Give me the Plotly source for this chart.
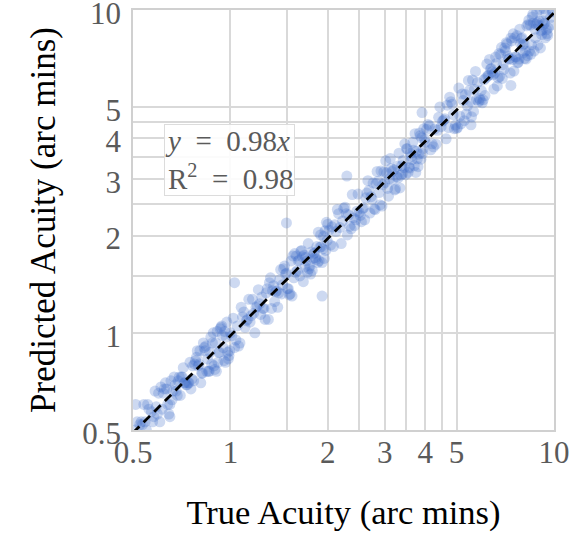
import plotly.graph_objects as go

# ---- data ----
true_acuity = [
    0.50, 0.51, 0.52, 0.53, 0.54, 0.55, 0.56, 0.57, 0.58, 0.59,
    0.60, 0.61, 0.62, 0.63, 0.64, 0.65, 0.66, 0.67, 0.68, 0.69,
    0.70, 0.71, 0.72, 0.73, 0.74, 0.75, 0.76, 0.77, 0.78, 0.79,
    0.80, 0.81, 0.82, 0.83, 0.84, 0.85, 0.86, 0.87, 0.88, 0.89,
    0.90, 0.91, 0.92, 0.93, 0.94, 0.95, 0.96, 0.97, 0.98, 0.99,
    1.00, 1.02, 1.04, 1.06, 1.08, 1.10, 1.12, 1.14, 1.16, 1.18,
    1.20, 1.22, 1.24, 1.26, 1.28, 1.30, 1.32, 1.34, 1.36, 1.38,
    1.40, 1.42, 1.44, 1.46, 1.48, 1.50, 1.52, 1.54, 1.56, 1.58,
    1.60, 1.62, 1.64, 1.66, 1.68, 1.70, 1.72, 1.74, 1.76, 1.78,
    1.80, 1.82, 1.84, 1.86, 1.88, 1.90, 1.92, 1.94, 1.96, 1.98,
    2.00, 2.04, 2.08, 2.12, 2.16, 2.20, 2.24, 2.28, 2.32, 2.36,
    2.40, 2.44, 2.48, 2.52, 2.56, 2.60, 2.64, 2.68, 2.72, 2.76,
    2.80, 2.84, 2.88, 2.92, 2.96, 3.00, 3.04, 3.08, 3.12, 3.16,
    3.20, 3.24, 3.28, 3.32, 3.36, 3.40, 3.44, 3.48, 3.52, 3.56,
    3.60, 3.64, 3.68, 3.72, 3.76, 3.80, 3.84, 3.88, 3.92, 3.96,
    4.00, 4.08, 4.16, 4.24, 4.32, 4.40, 4.48, 4.56, 4.64, 4.72,
    4.80, 4.88, 4.96, 5.04, 5.12, 5.20, 5.28, 5.36, 5.44, 5.52,
    5.60, 5.68, 5.76, 5.84, 5.92, 6.00, 6.08, 6.16, 6.24, 6.32,
    6.40, 6.48, 6.56, 6.64, 6.72, 6.80, 6.88, 6.96, 7.04, 7.12,
    7.20, 7.28, 7.36, 7.44, 7.52, 7.60, 7.68, 7.76, 7.84, 7.92,
    8.00, 8.08, 8.16, 8.24, 8.32, 8.40, 8.48, 8.56, 8.64, 8.72,
    8.80, 8.88, 8.96, 9.04, 9.12, 9.20, 9.28, 9.36, 9.44, 9.52,
    9.60, 9.68, 9.76, 9.84, 9.92,
    0.515, 0.535, 0.555, 0.575, 0.595, 0.615, 0.635, 0.655, 0.675, 0.695,
    0.715, 0.735, 0.755, 0.775, 0.795, 0.815, 0.835, 0.855, 0.875, 0.895,
    0.915, 0.935, 0.955, 0.975, 0.995,
    1.01, 1.05, 1.09, 1.13, 1.17, 1.21, 1.25, 1.29, 1.33, 1.37,
    1.41, 1.45, 1.49, 1.53, 1.57, 1.61, 1.65, 1.69, 1.73, 1.77,
    1.81, 1.85, 1.89, 1.93, 1.97,
    2.02, 2.10, 2.18, 2.26, 2.34, 2.42, 2.50, 2.58, 2.66, 2.74,
    2.82, 2.90, 2.98, 3.06, 3.14, 3.22, 3.30, 3.38, 3.46, 3.54,
    3.62, 3.70, 3.78, 3.86, 3.94,
    4.04, 4.20, 4.36, 4.52, 4.68, 4.84, 5.00, 5.16, 5.32, 5.48,
    5.64, 5.80, 5.96, 6.12, 6.28, 6.44, 6.60, 6.76, 6.92, 7.08,
    7.24, 7.40, 7.56, 7.72, 7.88,
    8.04, 8.20, 8.36, 8.52, 8.68, 8.84, 9.00, 9.16, 9.32, 9.48,
    9.64, 9.80,
    0.525, 0.545, 0.565, 0.585, 0.605, 0.625, 0.645, 0.665, 0.685, 0.705,
    0.725, 0.745, 0.765, 0.785, 0.805, 0.825, 0.845, 0.865, 0.885, 0.905,
    0.925, 0.945, 0.965, 0.985,
    1.03, 1.07, 1.11, 1.15, 1.19, 1.23, 1.27, 1.31, 1.35, 1.39,
    1.43, 1.47, 1.51, 1.55, 1.59, 1.63, 1.67, 1.71, 1.75, 1.79,
    1.83, 1.87, 1.91, 1.95, 1.99,
    2.06, 2.14, 2.22, 2.30, 2.38, 2.46, 2.54, 2.62, 2.70, 2.78,
    2.86, 2.94, 3.02, 3.10, 3.18, 3.26, 3.34, 3.42, 3.50, 3.58,
    3.66, 3.74, 3.82, 3.90, 3.98,
    4.12, 4.28, 4.44, 4.60, 4.76, 4.92, 5.08, 5.24, 5.40, 5.56,
    5.72, 5.88, 6.04, 6.20, 6.36, 6.52, 6.68, 6.84, 7.00, 7.16,
    7.32, 7.48, 7.64, 7.80, 7.96,
    8.12, 8.28, 8.44, 8.60, 8.76, 8.92, 9.08, 9.24, 9.40, 9.56,
    9.72, 9.88,
    1.49, 2.29, 3.91, 7.36, 5.54, 1.92, 1.03, 0.51, 0.65,
]

predicted_acuity = [
    0.44, 0.50, 0.46, 0.53, 0.60, 0.50, 0.58, 0.57, 0.55, 0.59,
    0.65, 0.68, 0.65, 0.70, 0.60, 0.60, 0.62, 0.73, 0.66, 0.71,
    0.64, 0.73, 0.70, 0.69, 0.70, 0.81, 0.72, 0.71, 0.82, 0.88,
    0.80, 0.70, 0.75, 0.90, 0.91, 0.83, 0.76, 0.97, 0.93, 0.79,
    0.93, 1.01, 0.87, 1.03, 1.05, 0.90, 1.01, 0.97, 0.87, 0.85,
    1.00, 1.11, 0.95, 0.91, 1.20, 1.16, 1.09, 1.27, 1.13, 1.15,
    1.20, 1.36, 1.14, 1.19, 1.10, 1.37, 1.43, 1.19, 1.40, 1.34,
    1.20, 1.46, 1.32, 1.58, 1.52, 1.37, 1.31, 1.67, 1.73, 1.76,
    1.73, 1.67, 1.50, 1.80, 1.44, 1.60, 1.67, 1.89, 1.61, 1.78,
    1.70, 1.77, 1.69, 1.65, 1.67, 2.01, 1.65, 1.99, 2.07, 2.20,
    2.17, 1.87, 1.85, 2.06, 2.34, 1.89, 2.43, 2.34, 2.32, 2.10,
    2.27, 2.24, 2.69, 2.31, 2.42, 2.24, 2.71, 2.76, 2.64, 2.91,
    2.41, 3.16, 2.72, 3.17, 2.88, 2.92, 3.13, 2.65, 3.47, 3.16,
    3.20, 2.79, 3.28, 3.60, 3.08, 3.11, 3.25, 3.09, 3.72, 3.26,
    3.60, 3.44, 3.68, 4.14, 3.65, 3.27, 4.16, 3.45, 3.59, 4.29,
    3.89, 4.42, 3.69, 3.77, 3.84, 4.65, 4.35, 4.56, 3.99, 4.32,
    5.20, 4.74, 4.40, 4.33, 4.69, 5.49, 4.54, 4.76, 6.05, 5.21,
    6.07, 5.68, 5.28, 5.19, 5.26, 5.16, 6.08, 6.16, 6.24, 7.03,
    6.58, 6.30, 6.38, 6.83, 6.16, 6.23, 7.65, 6.77, 7.63, 7.92,
    7.20, 7.08, 8.18, 7.02, 6.47, 7.17, 8.33, 6.89, 8.72, 8.14,
    7.78, 7.85, 7.47, 8.93, 9.02, 7.46, 7.29, 9.52, 9.12, 8.72,
    9.05, 9.13, 8.96, 10.05, 8.61, 8.68, 9.02, 9.10, 9.70, 8.45,
    8.79, 10.49, 9.49, 10.39, 9.92,
    0.53, 0.52, 0.60, 0.53, 0.56, 0.58, 0.67, 0.71, 0.69, 0.73,
    0.78, 0.69, 0.67, 0.80, 0.79, 0.75, 0.88, 0.76, 0.80, 0.77,
    0.81, 1.04, 0.82, 1.08, 0.88,
    0.98, 1.05, 1.12, 1.10, 1.27, 1.21, 1.29, 1.33, 1.48, 1.25,
    1.33, 1.41, 1.53, 1.32, 1.48, 1.56, 1.79, 1.74, 1.54, 1.52,
    1.76, 1.85, 1.84, 1.82, 1.80,
    2.08, 2.16, 2.12, 2.45, 2.14, 2.15, 2.36, 2.44, 2.96, 2.59,
    2.90, 2.49, 3.15, 2.80, 3.23, 2.77, 3.02, 3.29, 3.85, 3.14,
    3.52, 3.29, 3.46, 4.08, 3.72,
    4.27, 3.85, 4.24, 4.52, 5.07, 5.11, 4.30, 4.44, 5.47, 5.63,
    4.85, 5.96, 5.63, 5.43, 6.28, 6.44, 7.15, 7.33, 6.14, 7.48,
    7.04, 8.02, 8.20, 6.86, 7.88,
    7.36, 7.05, 9.30, 7.80, 7.46, 9.83, 9.25, 8.39, 10.10, 8.68,
    10.72, 8.98,
    0.52, 0.53, 0.47, 0.66, 0.53, 0.67, 0.56, 0.66, 0.64, 0.73,
    0.70, 0.70, 0.79, 0.84, 0.88, 0.93, 0.76, 0.87, 1.00, 0.76,
    0.87, 0.98, 0.81, 0.83,
    0.90, 0.93, 1.04, 1.08, 1.00, 1.23, 1.19, 1.10, 1.35, 1.35,
    1.57, 1.61, 1.37, 1.30, 1.54, 1.68, 1.72, 1.71, 1.58, 1.56,
    1.71, 2.05, 1.85, 1.70, 1.93,
    2.13, 2.41, 2.22, 2.01, 2.68, 2.38, 2.21, 2.62, 2.35, 2.42,
    2.95, 2.47, 3.41, 3.00, 2.98, 3.05, 2.81, 3.42, 3.72, 3.24,
    3.89, 3.14, 3.58, 4.02, 3.98,
    4.38, 4.28, 5.01, 4.60, 5.37, 4.29, 5.73, 5.24, 5.05, 4.67,
    6.45, 5.32, 5.27, 6.80, 6.56, 5.69, 5.82, 7.28, 6.55, 7.85,
    6.38, 8.44, 7.15, 7.05, 8.21,
    7.08, 7.22, 8.98, 9.70, 8.20, 7.78, 7.63, 9.24, 8.20, 8.34,
    10.65, 9.88,
    2.19, 3.06, 4.81, 5.84, 4.41, 1.30, 1.43, 0.60, 0.55,
]

fit_x = [0.5, 10.0]
fit_y = [0.49, 9.8]

major_vals = [0.5, 1, 2, 3, 4, 5, 10]
major_text = ["0.5", "1", "2", "3", "4", "5", "10"]
minor_vals = [1.5, 2.5, 3.5, 4.5]

SERIF = "Liberation Serif, Times New Roman, serif"
TICK_COLOR = "#5a5a5a"
GRID_COLOR = "#d9d9d9"

fig = go.Figure()
fig.add_trace(go.Scatter(
    x=true_acuity, y=predicted_acuity, mode="markers",
    marker=dict(size=11, color="rgba(62,108,200,0.26)", line=dict(width=0)),
    showlegend=False, hoverinfo="skip",
))
fig.add_trace(go.Scatter(
    x=fit_x, y=fit_y, mode="lines",
    line=dict(color="black", width=2.8, dash="9px,6px"),
    showlegend=False, hoverinfo="skip",
))

axis_common = dict(
    type="log",
    range=[-0.30103, 1.0],
    tickmode="array",
    tickvals=major_vals,
    ticktext=major_text,
    showgrid=True,
    gridcolor=GRID_COLOR,
    gridwidth=1.5,
    minor=dict(tickmode="array", tickvals=minor_vals, showgrid=True,
               gridcolor=GRID_COLOR, gridwidth=1.5, ticks=""),
    zeroline=False,
    showline=True,
    linecolor="#d0d0d0",
    linewidth=1.5,
    mirror=True,
    ticks="",
    ticklabeloverflow="allow",
    tickfont=dict(family=SERIF, size=31, color=TICK_COLOR),
    automargin=False,
)

fig.update_layout(
    width=577, height=535,
    margin=dict(l=133, r=23, t=10, b=105),
    paper_bgcolor="white",
    plot_bgcolor="white",
    font=dict(family=SERIF),
    xaxis=dict(
        **axis_common,
        ticklabelstandoff=-6,
        title=dict(text="True Acuity (arc mins)",
                   font=dict(family=SERIF, size=34.5, color="black"),
                   standoff=31),
    ),
    yaxis=dict(
        **axis_common,
        ticklabelstandoff=4,
        ticklabelshift=3,
        title=dict(text="Predicted Acuity (arc mins)",
                   font=dict(family=SERIF, size=35, color="black"),
                   standoff=16),
    ),
    annotations=[dict(
        xref="paper", yref="paper",
        x=0.074, y=0.728, xanchor="left", yanchor="top",
        text="<i>y</i>&nbsp; =&nbsp; 0.98<i>x</i><br>R<sup>2</sup>&nbsp; =&nbsp; 0.98",
        showarrow=False, align="left",
        font=dict(family=SERIF, size=29, color=TICK_COLOR),
        bgcolor="rgba(255,255,255,0.88)",
        bordercolor="#dcdcdc", borderwidth=1, borderpad=0,
    )],
)

fig.write_html("out.html", config={"displayModeBar": False},
               post_script="document.body.style.margin='0';")
